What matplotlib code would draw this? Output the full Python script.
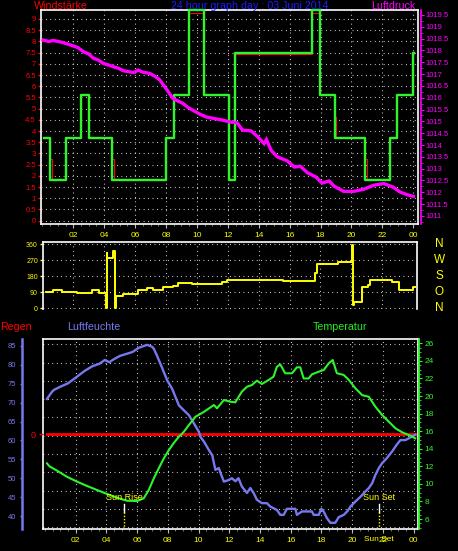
import numpy as np
import matplotlib
matplotlib.use("Agg")
import matplotlib.pyplot as plt
from matplotlib.ticker import MultipleLocator, FormatStrFormatter
import matplotlib.transforms as mtransforms

plt.rcParams['font.family'] = ['Liberation Sans', 'DejaVu Sans']

# ---- data (hours of the day) ----
hour_ticks = [2, 4, 6, 8, 10, 12, 14, 16, 18, 20, 22, 24]
hour_labels = ['02', '04', '06', '08', '10', '12', '14', '16', '18', '20', '22', '00']

# wind speed (Windstärke), step line
wind_hours = [0.1, 0.5, 1.5, 2.5, 3.0, 4.5, 8.0, 8.5, 9.5, 10.45, 12.05, 12.45,
              17.47, 17.96, 18.93, 20.9, 22.48, 22.95, 23.98, 24.02]
wind = [3.7, 1.8, 3.7, 5.6, 3.7, 1.8, 3.7, 5.6, 9.4, 5.6, 1.8, 7.5,
        9.4, 5.6, 3.7, 1.8, 3.7, 5.6, 7.5, 7.5]
# average wind (thin red, mostly hidden)
avg_hours = [0.1, 0.5, 0.62, 1.5, 2.5, 3.0, 4.5, 4.62, 8.0, 8.5, 9.5, 10.45,
             12.05, 12.45, 17.47, 17.96, 18.93, 19.03, 20.9, 21.02, 22.48, 22.95, 23.98, 24.02]
avg_wind = [3.7, 2.75, 1.87, 3.7, 5.6, 3.7, 2.75, 1.87, 3.7, 5.6, 9.25, 5.6,
            1.87, 7.42, 9.25, 5.6, 4.64, 3.7, 2.75, 1.87, 3.7, 5.6, 7.5, 7.5]

# air pressure (Luftdruck)
press_hours = [0.05, 0.4, 0.7, 1.1, 1.5, 2.0, 2.3, 2.65, 3.0, 3.3, 3.6, 3.95, 4.3, 4.6, 4.9,
               5.25, 5.6, 5.9, 6.2, 6.5, 6.95, 7.3, 7.6, 8.0, 8.45, 8.8, 9.1, 9.4, 9.75, 10.2,
               10.6, 11.1, 11.7, 12.1, 12.6, 12.95, 13.5, 13.9, 14.35, 14.5, 14.8, 15.2, 15.85,
               16.3, 16.7, 17.15, 17.7, 18.1, 18.55, 18.9, 19.5, 20.15, 20.8, 21.45, 22.1, 22.7,
               23.15, 23.6, 24.0]
press = [1018.44, 1018.38, 1018.42, 1018.37, 1018.3, 1018.19, 1018.12, 1017.95, 1017.85,
         1017.67, 1017.6, 1017.45, 1017.38, 1017.31, 1017.25, 1017.14, 1017.1, 1017.06,
         1017.17, 1017.08, 1017.03, 1016.9, 1016.75, 1016.39, 1015.97, 1015.85, 1015.76,
         1015.6, 1015.47, 1015.3, 1015.19, 1015.12, 1015.05, 1014.98, 1014.94, 1014.63,
         1014.6, 1014.37, 1014.06, 1014.23, 1013.78, 1013.5, 1013.33, 1013.07, 1013.1,
         1012.83, 1012.65, 1012.39, 1012.48, 1012.25, 1012.04, 1012.04, 1012.13, 1012.3,
         1012.37, 1012.22, 1012.01, 1011.9, 1011.83]

# wind direction, step line
dir_hours = [0.23, 0.71, 1.25, 2.22, 3.19, 3.66, 4.12, 4.16, 4.2, 4.6, 4.72, 4.78, 5.24,
             6.21, 6.75, 7.18, 7.83, 8.47, 8.8, 9.66, 11.6, 11.93, 15.59, 17.64, 17.75,
             19.15, 20.06, 20.12, 20.2, 20.67, 21.09, 21.2, 22.61, 23.1, 24.0, 24.1]
dir_deg = [93, 103, 93, 84, 103, 84, 0, 310, 282, 322, 0, 67, 82,
           103, 116, 103, 118, 125, 144, 135, 150, 159, 153, 200, 247,
           260, 356, 17, 37, 118, 131, 157, 146, 104, 118, 118]
compass_labels = ['N', 'W', 'S', 'O', 'N']
compass_deg = [360, 270, 180, 90, 0]

# humidity (Luftfeuchte)
hum_hours = [0.14, 0.47, 0.6, 1.0, 1.5, 1.9, 2.2, 2.55, 3.07, 3.55, 3.9, 4.2, 4.45, 4.9, 5.7,
             6.1, 6.65, 6.98, 7.1, 7.3, 7.52, 7.74, 7.96, 8.28, 8.5, 8.72, 9.04, 9.37, 9.7,
             10.02, 10.13, 10.35, 10.68, 10.9, 11.0, 11.1, 11.32, 11.43, 11.65, 11.95, 12.17,
             12.4, 12.6, 12.82, 13.15, 13.37, 13.58, 13.8, 14.12, 14.45, 14.67, 15.1, 15.32,
             15.54, 15.75, 16.3, 16.4, 16.73, 17.38, 17.49, 17.82, 17.99, 18.14, 18.36, 18.58,
             18.9, 19.12, 19.45, 19.67, 19.89, 20.2, 20.54, 20.86, 21.08, 21.3, 21.51, 21.73,
             21.95, 22.27, 22.6, 22.9, 23.14, 23.46, 23.7, 24.1]
hum = [71.0, 72.9, 73.4, 74.2, 75.1, 76.3, 77.2, 78.3, 79.6, 80.3, 81.3, 80.7, 81.4, 82.4, 83.4,
       84.5, 85.3, 84.8, 84.2, 82.4, 80.3, 78.1, 75.9, 73.7, 71.5, 69.3, 68.0, 66.7, 64.5,
       62.3, 60.9, 59.7, 57.4, 56.0, 54.0, 52.2, 52.7, 51.4, 49.1, 49.5, 50.0,
       49.2, 50.0, 47.8, 46.1, 47.4, 46.1, 44.3, 43.4, 43.4, 42.5, 41.6, 40.3,
       40.3, 41.9, 41.9, 40.3, 41.2, 41.2, 40.3, 40.3, 41.9, 41.2, 39.4, 38.2,
       38.2, 39.7, 40.3, 41.2, 42.5, 43.8, 45.1, 46.5, 47.4, 48.7, 50.9, 52.7,
       54.0, 55.4, 57.1, 58.9, 60.1, 60.1, 60.6, 61.5]

# temperature
temp_hours = [0.14, 0.3, 0.8, 1.45, 2.1, 2.75, 3.4, 4.05, 4.7, 5.35, 6.0, 6.43, 6.76, 7.09, 7.41,
              7.74, 8.07, 8.4, 8.72, 9.05, 9.37, 9.8, 10.35, 11.0, 11.2, 11.65, 12.08, 12.39,
              12.82, 13.15, 13.47, 13.8, 14.12, 14.56, 14.88, 15.1, 15.32, 15.64, 16.08, 16.4,
              16.62, 16.84, 17.16, 17.38, 17.82, 18.14, 18.47, 18.73, 19.0, 19.45, 19.78, 20.21,
              20.65, 21.08, 21.51, 21.95, 22.38, 22.82, 23.25, 23.69, 24.1]
temp = [12.34, 12.0, 11.5, 10.8, 10.25, 9.76, 9.3, 8.85, 8.42, 8.08, 8.05, 8.35, 9.3, 10.63, 11.77,
        12.9, 13.85, 14.68, 15.37, 15.94, 16.7, 17.64, 18.2, 18.98, 18.6, 19.55, 19.35, 19.28,
        20.5, 21.06, 21.25, 21.75, 21.37, 21.83, 22.2, 23.34, 23.6, 22.59, 22.59, 23.27,
        23.27, 22.0, 22.0, 22.47, 22.77, 22.96, 23.72, 24.1, 22.6, 22.4, 21.83, 20.88,
        20.1, 19.92, 18.78, 17.84, 17.08, 16.32, 15.87, 15.56, 15.19]

# rain (Regen)
rain_hours = [0.12, 24.1]
rain = [0, 0]

sun_rise = 5.17
sun_set = 21.72

# ---- colours / styles ----
GREEN = '#2cf52c'
MAGENTA = '#ff00ff'
YELLOW = '#ffff00'
HUM = '#7878ee'
RED = '#ff0000'
GRID = dict(color='white', linestyle=(0, (0.7, 3.3)), linewidth=0.8)

W, H = 458, 551


def px_rect(x0, y0, x1, y1):
    return [x0 / W, 1 - y1 / H, (x1 - x0) / W, (y1 - y0) / H]


fig = plt.figure(figsize=(W / 100, H / 100), dpi=100, facecolor='black')

# ---------------- top panel: wind speed + pressure ----------------
ax1 = fig.add_axes(px_rect(41, 10, 418, 224), facecolor='black')
ax1.set_xlim(-0.09, 24.31)
ax1.set_ylim(-0.147, 9.40)
for s in ax1.spines.values():
    s.set_color('white')
    s.set_linewidth(1.2)
ax1.set_yticks(np.arange(0, 9.01, 0.5))
ax1.yaxis.set_major_formatter(FormatStrFormatter('%g'))
ax1.tick_params(axis='y', colors=RED, labelsize=5.5, length=2.2, width=1, pad=1.5)
ax1.set_xticks(hour_ticks)
ax1.set_xticklabels(hour_labels)
ax1.xaxis.set_minor_locator(MultipleLocator(0.5))
ax1.tick_params(axis='x', which='major', colors='#bbbbbb', labelcolor=YELLOW,
                labelsize=6, length=3, pad=2.5)
ax1.tick_params(axis='x', which='minor', colors='#888888', length=1.6)
ax1.grid(True, which='major', **GRID)
ax1.plot(avg_hours, avg_wind, drawstyle='steps-post', color=RED, lw=0.8, zorder=3)
ax1.plot(wind_hours, wind, drawstyle='steps-post', color=GREEN, lw=1.7,
         zorder=4, clip_on=False)

ax1p = ax1.twinx()
ax1p.set_ylim(1010.66, 1019.71)
for k in ['left', 'top', 'bottom']:
    ax1p.spines[k].set_visible(False)
ax1p.spines['right'].set_color(MAGENTA)
ax1p.spines['right'].set_linewidth(1.2)
ax1p.spines['right'].set_position(('outward', 2))
ax1p.set_yticks(np.arange(1011, 1019.51, 0.5))
ax1p.yaxis.set_major_formatter(FormatStrFormatter('%g'))
ax1p.yaxis.set_minor_locator(MultipleLocator(0.25))
ax1p.tick_params(axis='y', which='major', colors=MAGENTA, labelsize=5.5, length=2.2, pad=1.2)
ax1p.tick_params(axis='y', which='minor', colors=MAGENTA, length=1.2)
ax1p.plot(press_hours, press, color=MAGENTA, lw=2.4, solid_joinstyle='miter')

# ---------------- middle panel: wind direction ----------------
ax2 = fig.add_axes(px_rect(43, 241.7, 416.7, 309.3), facecolor='black')
ax2.set_xlim(0.04, 24.23)
ax2.set_ylim(-5.6, 372.9)
for s in ax2.spines.values():
    s.set_color('white')
    s.set_linewidth(1.2)
ax2.spines['bottom'].set_visible(False)
ax2.set_yticks(compass_deg[::-1])
ax2.tick_params(axis='y', colors=YELLOW, labelsize=5, length=2.2, width=1, pad=1.5)
ax2.set_xticks(hour_ticks[:-1])
ax2.tick_params(axis='x', length=0, labelbottom=False)
ax2.grid(True, **GRID)
ax2.plot(dir_hours, dir_deg, drawstyle='steps-post', color=YELLOW, lw=1.4)
for lab, d in zip(compass_labels, compass_deg):
    ax2.text(1.061, d, lab, transform=ax2.get_yaxis_transform(), color=YELLOW,
             fontsize=8.5, ha='center', va='center')

# ---------------- bottom panel: rain, humidity, temperature ----------------
ax3 = fig.add_axes(px_rect(43, 339.3, 418, 529.3), facecolor='black')
ax3.set_xlim(-0.12, 24.28)
ax3.set_ylim(-0.109, 10.27)
for s in ax3.spines.values():
    s.set_color('white')
    s.set_linewidth(1.2)
ax3.set_yticks(range(0, 11))
ax3.tick_params(axis='y', length=0, labelleft=False)
ax3.set_xticks(hour_ticks)
ax3.set_xticklabels(hour_labels)
ax3.xaxis.set_minor_locator(MultipleLocator(0.5))
ax3.tick_params(axis='x', which='major', colors='#bbbbbb', labelcolor=YELLOW,
                labelsize=6, length=3, pad=2.8)
ax3.tick_params(axis='x', which='minor', colors='#888888', length=1.6)
ax3.grid(True, **GRID)

axr = ax3.twinx()
axr.set_ylim(-1.003, 0.997)
for s in axr.spines.values():
    s.set_visible(False)
axr.yaxis.set_ticks_position('left')
axr.set_yticks([0])
axr.tick_params(axis='y', colors=RED, labelsize=6.5, length=3, width=1, pad=2.2)
axr.plot(rain_hours, rain, color=RED, lw=2)

axh = ax3.twinx()
axh.set_ylim(36.48, 86.77)
for k in ['right', 'top', 'bottom']:
    axh.spines[k].set_visible(False)
axh.spines['left'].set_visible(True)
axh.spines['left'].set_color(HUM)
axh.spines['left'].set_linewidth(1.8)
axh.spines['left'].set_position(('outward', 15.3))
axh.yaxis.set_ticks_position('left')
axh.set_yticks(range(40, 86, 5))
axh.tick_params(axis='y', colors=HUM, labelsize=5.5, length=1.8, width=1, pad=2.3)
axh.plot(hum_hours, hum, color=HUM, lw=1.7)

axt = ax3.twinx()
axt.set_ylim(4.83, 26.46)
for k in ['left', 'top', 'bottom']:
    axt.spines[k].set_visible(False)
axt.spines['right'].set_color(GREEN)
axt.spines['right'].set_linewidth(1.3)
axt.spines['right'].set_position(('outward', 0.8))
axt.set_yticks(range(6, 27, 2))
axt.yaxis.set_minor_locator(MultipleLocator(0.5))
axt.tick_params(axis='y', which='major', colors=GREEN, labelsize=6, length=2.5, pad=1.5)
axt.tick_params(axis='y', which='minor', colors=GREEN, length=1.2)
axt.plot(temp_hours, temp, color=GREEN, lw=1.5)

# sun rise / sun set markers
trans = mtransforms.blended_transform_factory(axt.transData, axt.transAxes)
for t, lab in [(sun_rise, 'Sun Rise'), (sun_set, 'Sun Set')]:
    axt.plot([t, t], [0.133, 0.091], color='white', lw=1, transform=trans)
    axt.plot([t, t], [0.091, 0.0], color=YELLOW, lw=1, linestyle=(0, (1, 1.3)),
             transform=trans)
    axt.text(t, 0.166, lab, transform=trans, ha='center', va='center',
             color=YELLOW, fontsize=6.5)
axt.text(sun_set, -0.056, 'Sun Set', transform=trans, ha='center', va='center',
         color=YELLOW, fontsize=6, clip_on=False)

# ---------------- headers ----------------
fig.text(34 / W, 1 - 6 / H, 'Windstärke', color=RED, fontsize=7.7, ha='left', va='center')
fig.text(249.3 / W, 1 - 6 / H, '24 hour graph day : 03 Juni 2014', color='#1c1cff',
         fontsize=7.7, ha='center', va='center')
fig.text(393.3 / W, 1 - 6 / H, 'Luftdruck', color=MAGENTA, fontsize=7.7, ha='center', va='center')
fig.text(0.5 / W, 1 - 327.5 / H, 'Regen', color=RED, fontsize=7.7, ha='left', va='center')
fig.text(67 / W, 1 - 327.5 / H, 'Luftfeuchte', color=HUM, fontsize=7.7, ha='left', va='center')
fig.text(313 / W, 1 - 327.5 / H, 'Temperatur', color='#22ee22', fontsize=7.7, ha='left', va='center')

fig.savefig('out.png', dpi=100, facecolor='black')
